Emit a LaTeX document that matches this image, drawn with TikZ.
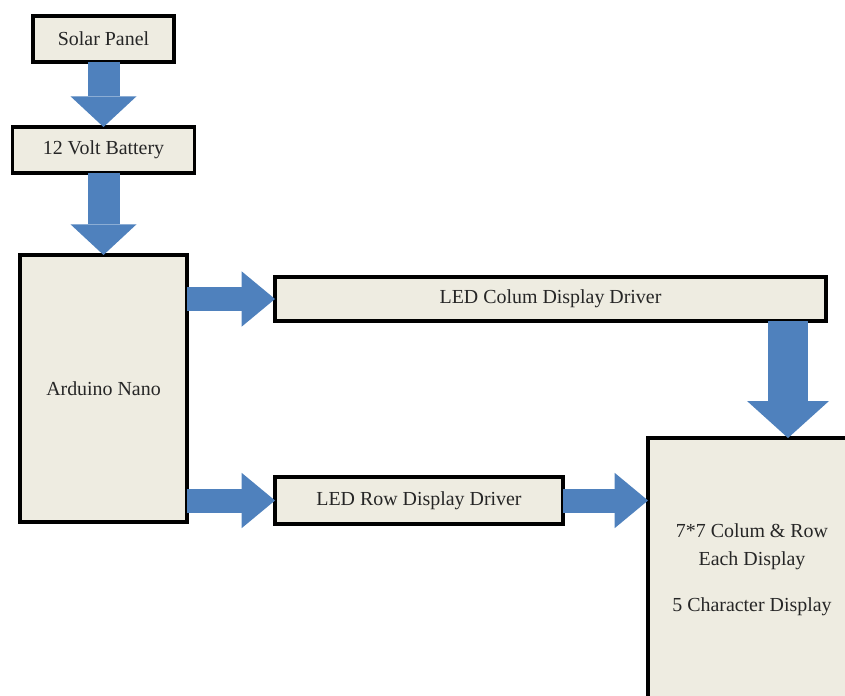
\documentclass[tikz,border=0pt]{standalone}
\usepackage{fontspec}
\setmainfont{Liberation Serif}
\usetikzlibrary{positioning,arrows.meta}
\definecolor{boxfill}{HTML}{EEECE1}
\definecolor{arrowblue}{HTML}{4F81BD}
\definecolor{inktext}{HTML}{262626}
\tikzset{
  block/.style={draw=black, line width=3pt, fill=boxfill, inner sep=0pt, outer sep=0pt,
    align=center, text=inktext, font=\fontsize{17}{24}\selectfont},
  downflow/.style={draw=arrowblue, line width=0.96cm, -{Triangle[width=1.98cm, length=0.92cm, line width=0pt]}},
  wideflow/.style={draw=arrowblue, line width=1.2cm, -{Triangle[width=2.46cm, length=1.11cm, line width=0pt]}},
  rightflow/.style={draw=arrowblue, line width=0.72cm, -{Triangle[width=1.66cm, length=1.0cm, line width=0pt]}}
}
\begin{document}
\begin{tikzpicture}
\useasboundingbox (0,0) rectangle (25.35,-20.88);
\clip (0,0) rectangle (25.35,-20.88);
\node[block, minimum width=4.23cm, minimum height=1.38cm] (solar) at (3.105,-1.17) {Solar Panel};
\node[block, minimum width=5.46cm, minimum height=1.38cm, below=1.95cm of solar] (battery) {12 Volt Battery};
\node[block, minimum width=5.01cm, minimum height=8.01cm, below=2.46cm of battery] (arduino) {Arduino Nano};
\node[block, minimum width=16.53cm, minimum height=1.32cm, right=2.64cm of arduino.north east, anchor=north west, yshift=-0.66cm] (colum) {LED Colum Display Driver};
\node[block, minimum width=8.64cm, minimum height=1.41cm, below=4.68cm of colum.south west, anchor=north west] (row) {LED Row Display Driver};
\node[block, minimum width=6.24cm, minimum height=7.92cm, right=2.55cm of row.north east, anchor=north west, yshift=1.17cm] (display) {7*7 Colum \& Row\\Each Display\\[15pt]5 Character Display};
\coordinate (drop) at ([xshift=-1.14cm]colum.south east);

\draw[downflow] (solar.south) -- (solar.south |- battery.north);
\draw[downflow] (battery.south) -- (battery.south |- arduino.north);
\draw[rightflow] (arduino.east |- colum.west) -- (colum.west);
\draw[rightflow] (arduino.east |- row.west) -- (row.west);
\draw[rightflow] (row.east) -- (display.west |- row.east);
\draw[wideflow] (drop) -- (drop |- display.north);

\end{tikzpicture}
\end{document}
